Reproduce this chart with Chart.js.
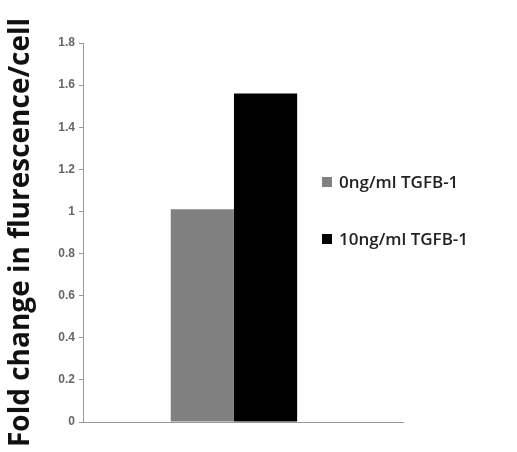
<!DOCTYPE html>
<html>
<head>
<meta charset="utf-8">
<script src="https://cdn.jsdelivr.net/npm/chart.js@4.4.1/dist/chart.umd.min.js"></script>
<style>
  body { margin: 0; background: #fff; }
  #wrap { position: relative; width: 517px; height: 452px; }
  #legend { position: absolute; left: 322px; top: 170px; font-family: "Open Sans", sans-serif; font-size: 17px; font-weight: 600; color: #222; }
  #legend .item { height: 57px; white-space: nowrap; }
  #legend .box { display: inline-block; width: 10px; height: 10px; margin-right: 7px; vertical-align: 1px; }
</style>
</head>
<body>
<div id="wrap">
  <canvas id="chart" width="517" height="452"></canvas>
  <div id="legend"></div>
</div>
<script>
// data
var categories = [0];
var seriesNames = ["0ng/ml TGFB-1", "10ng/ml TGFB-1"];
var seriesValues = [[1.01], [1.56]];
var seriesColors = ["#808080", "#000000"];
var yTicks = [0, 0.2, 0.4, 0.6, 0.8, 1, 1.2, 1.4, 1.6, 1.8];

var datasets = [];
for (var i = 0; i < seriesNames.length; i++) {
    var pts = [];
    for (var j = 0; j < categories.length; j++) pts.push({ x: categories[j], y: seriesValues[i][j] });
    datasets.push({
        label: seriesNames[i],
        data: pts,
        backgroundColor: seriesColors[i],
        categoryPercentage: 0.395,
        barPercentage: 1.0
    });
}

// html legend
var legendHtml = "";
for (var i = 0; i < seriesNames.length; i++) {
    legendHtml += '<div class="item"><span class="box" style="background:' + seriesColors[i] + '"></span>' + seriesNames[i] + '</div>';
}
document.getElementById("legend").innerHTML = legendHtml;

var chart = new Chart(document.getElementById("chart"), {
    type: 'bar',
    data: { datasets: datasets },
    options: {
        responsive: false,
        animation: false,
        layout: { padding: { top: 43, right: 114, bottom: 30, left: 4 } },
        plugins: { legend: { display: false }, tooltip: { enabled: false } },
        scales: {
            x: {
                type: 'linear',
                min: -0.5,
                max: 0.56,
                offset: false,
                afterBuildTicks: function (s) { s.ticks = [{ value: -0.5 }, { value: 0.56 }]; },
                ticks: { display: false },
                grid: { display: true, drawOnChartArea: false, drawTicks: false },
                border: { display: true, color: '#999', width: 1 }
            },
            y: {
                min: 0,
                max: 1.8,
                afterBuildTicks: function (s) { s.ticks = yTicks.map(function (v) { return { value: v }; }); },
                ticks: {
                    color: '#666',
                    padding: 4,
                    font: { family: 'Liberation Sans Narrow, Liberation Sans', size: 12, weight: 'bold' },
                    callback: function (v) { return String(Math.round(v * 10) / 10); }
                },
                grid: { display: true, drawOnChartArea: false, drawTicks: true, tickLength: 4, color: '#999' },
                border: { display: true, color: '#999', width: 1 },
                title: {
                    display: true,
                    text: 'Fold change in flurescence/cell',
                    color: '#111',
                    font: { family: 'Open Sans', size: 28, weight: 'bold' },
                    padding: { top: 0, bottom: 8 }
                },
                afterFit: function (s) { s.width = 79; }
            }
        }
    }
});
</script>
</body>
</html>
